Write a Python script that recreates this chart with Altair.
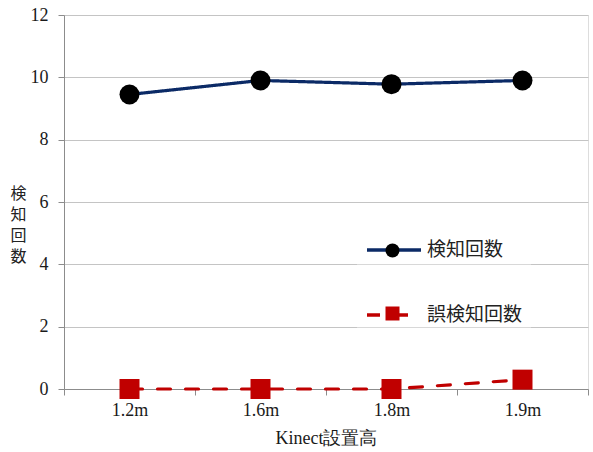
import altair as alt
import pandas as pd

categories = ["1.2m", "1.6m", "1.8m", "1.9m"]
series_names = ["検知回数", "誤検知回数"]
detect_counts = [9.45, 9.9, 9.78, 9.9]
false_counts = [0.0, 0.0, 0.0, 0.3]
y_ticks = [0, 2, 4, 6, 8, 10, 12]

rows = []
for c, v in zip(categories, detect_counts):
    rows.append({"cat": c, "series": series_names[0], "series_b": series_names[0], "value": v})
for c, v in zip(categories, false_counts):
    rows.append({"cat": c, "series": series_names[1], "series_b": series_names[1], "value": v})
df = pd.DataFrame(rows)

SERIF = "Liberation Serif"
CJK = "Noto Sans CJK JP"
navy = "#0b2a66"
red = "#c00000"

x_enc = alt.X("cat:N", sort=categories, bandPosition=0.5,
              scale=alt.Scale(type="band", paddingInner=0, paddingOuter=0),
              axis=alt.Axis(title="Kinect設置高", labelAngle=0, tickBand="extent",
                            labelFont=SERIF, labelFontSize=18, labelColor="#1a1a1a",
                            titleFont=SERIF, titleFontSize=18, titleColor="#1a1a1a",
                            titleFontWeight="normal", titlePadding=10,
                            domainColor="#8c8c8c", tickColor="#8c8c8c", tickSize=6,
                            labelPadding=6, grid=False))
y_enc = alt.Y("value:Q", scale=alt.Scale(domain=[0, 12]),
              axis=alt.Axis(values=y_ticks, title=["検", "知", "回", "数"],
                            titleAngle=0, titleAlign="center", titleBaseline="top",
                            titleX=-46, titleY=170, titleFont=CJK, titleFontSize=16,
                            titleFontWeight="normal", titleLineHeight=21, titleColor="#222",
                            labelFont=SERIF, labelFontSize=18, labelColor="#1a1a1a",
                            labelPadding=10, tickSize=6,
                            domainColor="#8c8c8c", tickColor="#8c8c8c",
                            gridColor="#c4c4c4", gridWidth=1))

pad = 8
legend_a = alt.Legend(title=None, orient="none", direction="vertical",
                      legendX=328 - 27 - pad, legendY=233 - 27 - pad, padding=pad,
                      symbolType="stroke", symbolSize=2916, symbolStrokeWidth=3.5,
                      rowPadding=26, labelOffset=4, labelFont=CJK, labelFontSize=19,
                      labelColor="#222", fillColor="rgba(255,255,255,0.35)", zindex=1)
legend_b = alt.Legend(title=None, orient="none", direction="vertical",
                      legendX=326 - 7 - pad, legendY=233 - 7 - pad, padding=pad,
                      symbolSize=196, rowPadding=43, labelOpacity=0,
                      labelFont=CJK, labelFontSize=19, symbolStrokeWidth=0, zindex=2)

lines = alt.Chart(df).mark_line(strokeWidth=3.2, strokeCap="round").encode(
    x=x_enc, y=y_enc,
    color=alt.Color("series:N", scale=alt.Scale(domain=series_names, range=[navy, red]),
                    legend=legend_a),
    strokeDash=alt.StrokeDash("series:N",
                              scale=alt.Scale(domain=series_names, range=[[1, 0], [13, 15]]),
                              legend=legend_a),
    detail="series:N",
)

points = alt.Chart(df).mark_point(filled=True, size=400, opacity=1).encode(
    x=x_enc, y=y_enc,
    fill=alt.Fill("series_b:N", scale=alt.Scale(range=["#000000", red]), legend=legend_b),
    shape=alt.Shape("series_b:N", scale=alt.Scale(range=["circle", "square"]), legend=legend_b),
)

chart = alt.layer(lines, points).properties(
    width=524, height=374, autosize="none",
    padding={"left": 64, "top": 15, "right": 5, "bottom": 63},
).configure_view(stroke=None).configure(background="white")

chart.save("out.html", embed_options={"renderer": "svg", "actions": False})
